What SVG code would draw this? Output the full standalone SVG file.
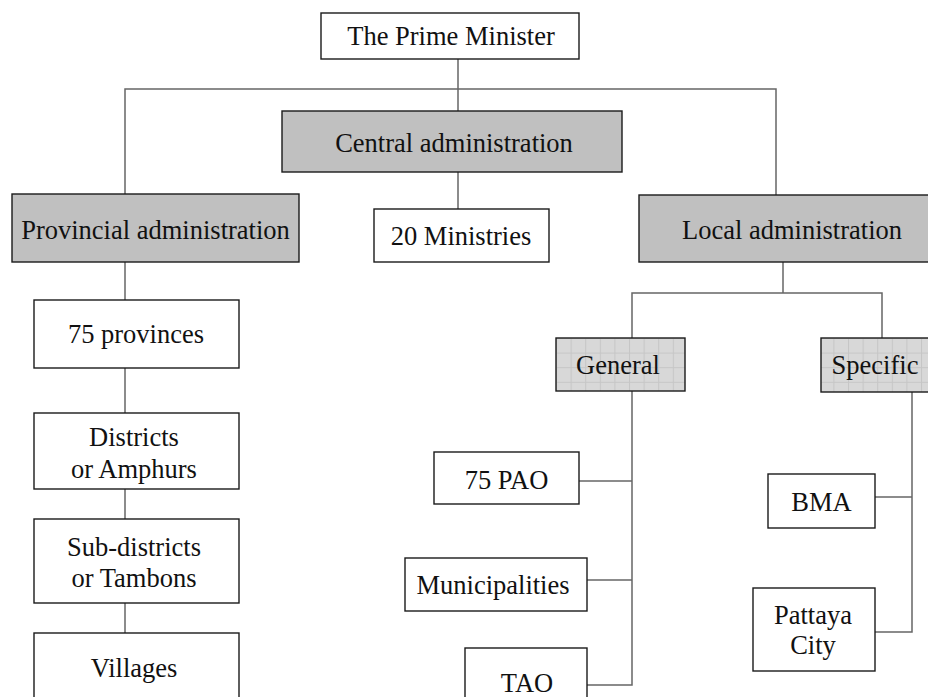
<svg xmlns="http://www.w3.org/2000/svg" width="928" height="697" viewBox="0 0 928 697">
  <defs>
    <!-- light grid fill for the General / Specific boxes -->
    <pattern id="grid" patternUnits="userSpaceOnUse" width="14.6" height="14.6" x="556" y="338">
      <rect width="14.6" height="14.6" fill="#d8d8d8"/>
      <path d="M0 0.5 H14.6 M0.5 0 V14.6" stroke="#c6c6c6" stroke-width="1" fill="none"/>
    </pattern>
    <style>
      .box { fill: #ffffff; stroke: #1a1a1a; stroke-width: 1.4; }
      .grey { fill: #c0c0c0; stroke: #1a1a1a; stroke-width: 1.4; }
      .grid { fill: url(#grid); stroke: #1a1a1a; stroke-width: 1.4; }
      .lbl { font-family: "Liberation Serif", "Times New Roman", serif; font-size: 26.5px; fill: #111111; text-anchor: middle; }
      .conn { fill: none; stroke: #666666; stroke-width: 1.5; }
    </style>
  </defs>

  <rect width="928" height="697" fill="#ffffff"/>

  <!-- connectors -->
  <g id="connectors" class="conn">
    <path d="M458 59 V111"/>
    <path d="M125 194 V89 H776 V195"/>
    <path d="M458 172 V209"/>
    <path d="M125 262 V300"/>
    <path d="M125 368 V413"/>
    <path d="M125 489 V519"/>
    <path d="M125 603 V633"/>
    <path d="M783 262 V293"/>
    <path d="M632 338 V293 H882 V338"/>
    <path d="M632 391 V685 H587"/>
    <path d="M579 481 H632"/>
    <path d="M587 580 H632"/>
    <path d="M912 392 V632 H875"/>
    <path d="M875 497 H912"/>
  </g>

  <g id="prime-minister">
    <rect class="box" x="321" y="13" width="258" height="46"/>
    <text class="lbl" x="451" y="45">The Prime Minister</text>
  </g>

  <g id="central-administration">
    <rect class="grey" x="282" y="111" width="340" height="61"/>
    <text class="lbl" x="454" y="152">Central administration</text>
  </g>

  <g id="provincial-administration">
    <rect class="grey" x="12" y="194" width="287" height="68"/>
    <text class="lbl" x="155.5" y="239">Provincial administration</text>
  </g>

  <g id="ministries">
    <rect class="box" x="374" y="209" width="175" height="53"/>
    <text class="lbl" x="461" y="245">20 Ministries</text>
  </g>

  <g id="local-administration">
    <rect class="grey" x="639" y="195" width="300" height="67"/>
    <text class="lbl" x="792" y="239">Local administration</text>
  </g>

  <g id="provinces">
    <rect class="box" x="34" y="300" width="205" height="68"/>
    <text class="lbl" x="136" y="343">75 provinces</text>
  </g>

  <g id="districts">
    <rect class="box" x="34" y="413" width="205" height="76"/>
    <text class="lbl" x="134" y="446">Districts</text>
    <text class="lbl" x="134" y="478">or Amphurs</text>
  </g>

  <g id="sub-districts">
    <rect class="box" x="34" y="519" width="205" height="84"/>
    <text class="lbl" x="134" y="556">Sub-districts</text>
    <text class="lbl" x="134" y="587">or Tambons</text>
  </g>

  <g id="villages">
    <rect class="box" x="34" y="633" width="205" height="80"/>
    <text class="lbl" x="134" y="677">Villages</text>
  </g>

  <g id="general">
    <rect class="grid" x="556" y="338" width="129" height="53"/>
    <text class="lbl" x="618" y="374">General</text>
  </g>

  <g id="specific">
    <rect class="grid" x="821" y="338" width="120" height="54"/>
    <text class="lbl" x="875" y="374">Specific</text>
  </g>

  <g id="pao">
    <rect class="box" x="434" y="452" width="145" height="52"/>
    <text class="lbl" x="506.5" y="489">75 PAO</text>
  </g>

  <g id="municipalities">
    <rect class="box" x="405" y="558" width="182" height="53"/>
    <text class="lbl" x="493" y="594">Municipalities</text>
  </g>

  <g id="tao">
    <rect class="box" x="465" y="648" width="122" height="60"/>
    <text class="lbl" x="527" y="692">TAO</text>
  </g>

  <g id="bma">
    <rect class="box" x="768" y="474" width="107" height="54"/>
    <text class="lbl" x="821.5" y="511">BMA</text>
  </g>

  <g id="pattaya-city">
    <rect class="box" x="753" y="588" width="122" height="83"/>
    <text class="lbl" x="813" y="624">Pattaya</text>
    <text class="lbl" x="813" y="654">City</text>
  </g>
</svg>
